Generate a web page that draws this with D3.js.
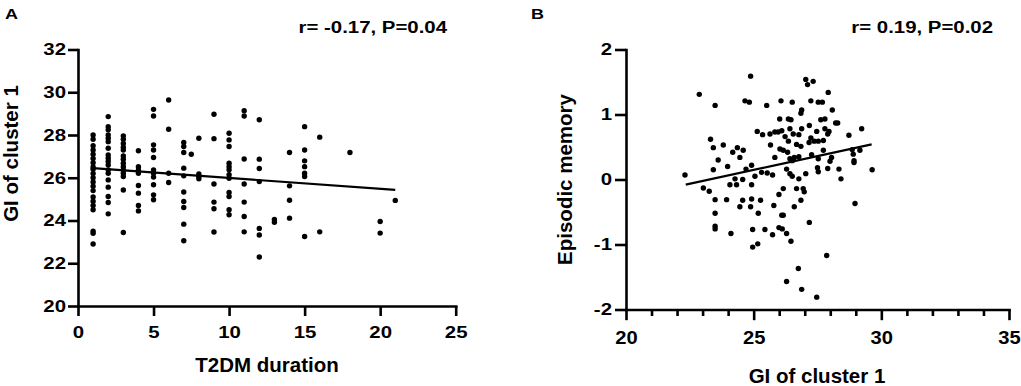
<!DOCTYPE html>
<html>
<head>
<meta charset="utf-8">
<script src="https://cdn.jsdelivr.net/npm/d3@7"></script>
<style>
  html, body { margin: 0; padding: 0; background: #fff; }
  svg { display: block; font-family: "Liberation Sans", Arial, Helvetica, sans-serif; font-weight: bold; }
</style>
</head>
<body>
<svg id="chart" width="1021" height="386"></svg>
<script>
// -----------------------------------------------------------------------------
// Two scatter plots with fitted lines.
// A: GI of cluster 1 vs T2DM duration, B: Episodic memory vs GI of cluster 1
// -----------------------------------------------------------------------------

// Panel A — GI values grouped by T2DM duration (years)
const durations = [1, 2, 3, 4, 5, 6, 7, 7.5, 8, 9, 10, 11, 12, 13, 14, 15, 16, 18, 20, 21];
const giByDuration = [
  [28.0, 27.8, 27.5, 27.3, 27.1, 26.9, 26.7, 26.5, 26.4, 26.2, 26.0, 25.8, 25.6, 25.4, 25.1, 24.9, 24.7, 24.5, 23.5, 23.4, 22.9],
  [28.86, 28.39, 28.24, 28.0, 27.85, 27.69, 27.38, 27.07, 26.91, 26.76, 26.6, 26.37, 26.21, 25.9, 25.56, 25.12, 24.84, 24.31],
  [27.96, 27.8, 27.6, 27.43, 27.3, 27.02, 26.87, 26.68, 26.52, 26.37, 26.21, 26.06, 25.43, 23.44],
  [27.26, 26.52, 26.37, 26.21, 25.64, 25.28, 24.7, 24.45],
  [29.2, 28.89, 27.54, 27.3, 26.95, 26.37, 26.21, 26.03, 25.67, 25.2, 24.97],
  [29.64, 28.27, 26.21, 25.78],
  [27.65, 27.46, 27.18, 26.45, 26.09, 25.33, 24.89, 24.61, 23.83, 23.05],
  [27.1],
  [27.85, 26.18, 26.06, 25.95],
  [28.97, 27.83, 25.71, 24.86, 24.55, 23.46],
  [28.08, 27.77, 27.46, 26.68, 26.52, 26.37, 26.14, 25.98, 25.31, 25.12, 24.5, 24.27],
  [29.14, 28.89, 26.88, 25.71, 24.86, 24.19, 23.47],
  [28.71, 26.87, 26.43, 25.82, 23.63, 23.32, 22.29],
  [24.05, 23.92],
  [27.18, 25.62, 24.95, 24.11],
  [28.39, 27.3, 26.79, 26.52, 26.21, 26.06, 23.25],
  [27.9, 23.47],
  [27.18],
  [23.95, 23.41],
  [24.94]
];
const fitA = [[1, 26.45], [21, 25.43]];
const xTicksA = [0, 5, 10, 15, 20, 25];
const yTicksA = [20, 22, 24, 26, 28, 30, 32];
const statA = "r= -0.17, P=0.04";

// Panel B — [GI of cluster 1, episodic memory]
const memoryPoints = [
  [24.88, 1.59], [22.87, 1.31], [23.49, 1.14], [24.66, 1.21], [24.83, 1.19], [25.51, 1.14],
  [25.14, 0.74], [25.35, 0.69], [25.64, 0.70], [25.83, 0.73], [23.31, 0.62], [23.81, 0.53],
  [23.42, 0.49], [24.36, 0.49], [24.59, 0.45], [24.18, 0.42], [24.46, 0.34], [25.66, 0.53],
  [23.61, 0.30], [23.98, 0.20], [23.42, 0.15], [24.70, 0.16], [24.92, 0.22], [25.31, 0.11],
  [25.53, 0.10], [25.74, 0.07], [25.05, 0.05], [22.31, 0.07], [24.27, 0.01], [24.57, 0.00],
  [24.07, -0.08], [24.33, -0.08], [24.92, -0.08], [23.03, -0.13], [23.26, -0.18], [23.49, -0.31],
  [23.94, -0.31], [24.57, -0.32], [24.92, -0.30], [25.27, -0.32], [24.46, -0.42], [24.88, -0.42],
  [25.79, -0.40], [23.49, -0.52], [25.18, -0.52], [23.49, -0.72], [23.49, -0.76], [24.11, -0.83],
  [24.96, -0.77], [25.44, -0.77], [25.74, -0.85], [24.96, -1.04], [25.16, -0.99],
  [27.04, 1.54], [27.33, 1.51], [27.11, 1.46], [27.92, 1.34], [26.07, 1.21], [26.51, 1.19],
  [27.24, 1.21], [27.53, 1.19], [27.69, 1.19], [28.08, 1.07], [26.88, 1.07], [26.85, 1.02],
  [26.36, 0.93], [26.46, 0.92], [27.63, 0.92], [27.79, 0.93], [28.21, 0.87], [28.29, 0.87],
  [26.02, 0.93], [26.10, 0.75], [26.42, 0.78], [26.88, 0.78], [27.18, 0.83], [27.47, 0.74],
  [27.79, 0.78], [27.95, 0.74], [28.73, 0.68], [29.23, 0.78], [25.96, 0.73], [26.23, 0.66],
  [26.55, 0.70], [26.77, 0.69], [27.24, 0.64], [27.37, 0.59], [27.53, 0.59], [27.73, 0.60],
  [27.90, 0.70], [26.36, 0.59], [26.68, 0.54], [26.85, 0.51], [27.17, 0.57], [26.03, 0.47],
  [26.16, 0.45], [26.33, 0.42], [27.73, 0.45], [28.05, 0.34], [28.86, 0.46], [29.16, 0.45],
  [28.90, 0.39], [28.93, 0.29], [28.93, 0.26], [25.83, 0.34], [26.42, 0.32], [26.59, 0.34],
  [26.77, 0.35], [26.51, 0.29], [27.27, 0.38], [27.53, 0.32], [27.50, 0.18], [27.53, 0.12],
  [27.90, 0.17], [27.99, 0.28], [28.34, 0.16], [28.42, 0.01], [29.64, 0.15], [26.29, 0.16],
  [26.42, 0.09], [26.51, 0.05], [26.77, 0.01], [27.04, 0.09], [26.16, -0.14], [25.99, -0.23],
  [26.68, -0.14], [26.94, -0.14], [26.98, -0.19], [26.85, -0.32], [26.59, -0.42], [28.97, -0.37],
  [27.18, -0.66], [26.10, -0.55], [26.16, -0.55], [25.99, -0.74], [26.12, -0.76], [26.29, -0.83],
  [26.46, -0.95], [27.86, -1.17], [26.75, -1.37], [26.29, -1.57], [26.88, -1.69], [27.47, -1.81]
];
const fitB = [[22.34, -0.08], [29.62, 0.54]];
const xTicksB = [20, 25, 30, 35];
const xMinorB = d3.range(20, 36, 1).filter((v) => v % 5 !== 0);
const yTicksB = [-2, -1, 0, 1, 2];
const statB = "r= 0.19, P=0.02";

const svg = d3.select("#chart");
const AXIS_W = 2.6;
const STRETCH = 1.2; // the source's tick text is a bit wider than plain Arial
const plain = (d) => String(d); // ascii hyphen, no trailing ".0"

// ---- scales ----------------------------------------------------------------
const xA = d3.scaleLinear().domain([0, 25]).range([78, 455.7]);
const yA = d3.scaleLinear().domain([20, 32]).range([306, 49.5]);
const xB = d3.scaleLinear().domain([20, 35]).range([626, 1009]);
const yB = d3.scaleLinear().domain([-2, 2]).range([309.5, 49.5]);

function styleAxis(g) {
  g.select(".domain").attr("stroke", "#000").attr("stroke-width", AXIS_W).attr("stroke-linecap", "square");
  g.selectAll(".tick line").attr("stroke", "#000").attr("stroke-width", AXIS_W);
  g.selectAll(".tick text").attr("fill", "#000").attr("font-size", 17);
}

function bottomAxis(x, y0, ticks, size, labelY, fontSize, stretch) {
  const g = svg.append("g").attr("transform", `translate(0,${y0})`)
    .call(d3.axisBottom(x).tickValues(ticks).tickFormat(plain).tickSize(size).tickSizeOuter(0));
  styleAxis(g);
  g.selectAll(".tick text")
    .attr("y", labelY).attr("font-size", fontSize)
    .attr("transform", `scale(${stretch},1)`);
  return g;
}

function leftAxis(y, x0, ticks, size, gap) {
  const g = svg.append("g").attr("transform", `translate(${x0},0)`)
    .call(d3.axisLeft(y).tickValues(ticks).tickFormat(plain).tickSize(size).tickSizeOuter(0));
  styleAxis(g);
  g.selectAll(".tick text")
    .attr("x", null)
    .attr("transform", `translate(${-(size + gap)},0) scale(${STRETCH},1)`);
  return g;
}

function stretchedText(x, y, txt, size, anchor) {
  svg.append("text")
    .attr("transform", `translate(${x},${y}) scale(${STRETCH},1)`)
    .attr("text-anchor", anchor)
    .attr("font-size", size)
    .attr("fill", "#000")
    .text(txt);
}

// ---- panel A ----------------------------------------------------------------
const pointsA = durations.flatMap((d, i) => giByDuration[i].map((v) => [d, v]));

bottomAxis(xA, 306, xTicksA, 10, 20, 17, STRETCH);
leftAxis(yA, 78, yTicksA, 10, 2);

svg.append("g").selectAll("circle")
  .data(pointsA).enter().append("circle")
  .attr("cx", (d) => xA(d[0]))
  .attr("cy", (d) => yA(d[1]))
  .attr("r", 2.7)
  .attr("fill", "#000");

svg.append("path")
  .datum(fitA)
  .attr("d", d3.line().x((d) => xA(d[0])).y((d) => yA(d[1])))
  .attr("stroke", "#000").attr("stroke-width", 2.2).attr("fill", "none");

stretchedText(5, 18.5, "A", 15, "start");
stretchedText(447, 33, statA, 17, "end");

svg.append("text")
  .attr("x", 267).attr("y", 372)
  .attr("text-anchor", "middle").attr("font-size", 20.5)
  .text("T2DM duration");

svg.append("text")
  .attr("transform", "translate(18,153.5) rotate(-90)")
  .attr("text-anchor", "middle").attr("font-size", 20.5)
  .text("GI of cluster 1");

// ---- panel B ----------------------------------------------------------------
svg.append("g").attr("transform", "translate(0,309.5)")
  .call(d3.axisBottom(xB).tickValues(xMinorB).tickSize(6.5).tickFormat(""))
  .call((g) => {
    g.select(".domain").remove();
    g.selectAll(".tick line").attr("stroke", "#000").attr("stroke-width", AXIS_W);
  });
bottomAxis(xB, 309.5, xTicksB, 10.7, 22, 18, 1.12);
leftAxis(yB, 626, yTicksB, 11, 3);

svg.append("g").selectAll("circle")
  .data(memoryPoints).enter().append("circle")
  .attr("cx", (d) => xB(d[0]))
  .attr("cy", (d) => yB(d[1]))
  .attr("r", 2.7)
  .attr("fill", "#000");

svg.append("path")
  .datum(fitB)
  .attr("d", d3.line().x((d) => xB(d[0])).y((d) => yB(d[1])))
  .attr("stroke", "#000").attr("stroke-width", 2.2).attr("fill", "none");

stretchedText(531, 18.5, "B", 15, "start");
stretchedText(993, 33, statB, 17, "end");

svg.append("text")
  .attr("x", 817).attr("y", 383)
  .attr("text-anchor", "middle").attr("font-size", 20.5)
  .text("GI of cluster 1");

svg.append("text")
  .attr("transform", "translate(572,179.5) rotate(-90)")
  .attr("text-anchor", "middle").attr("font-size", 20.5)
  .text("Episodic memory");
</script>
</body>
</html>
